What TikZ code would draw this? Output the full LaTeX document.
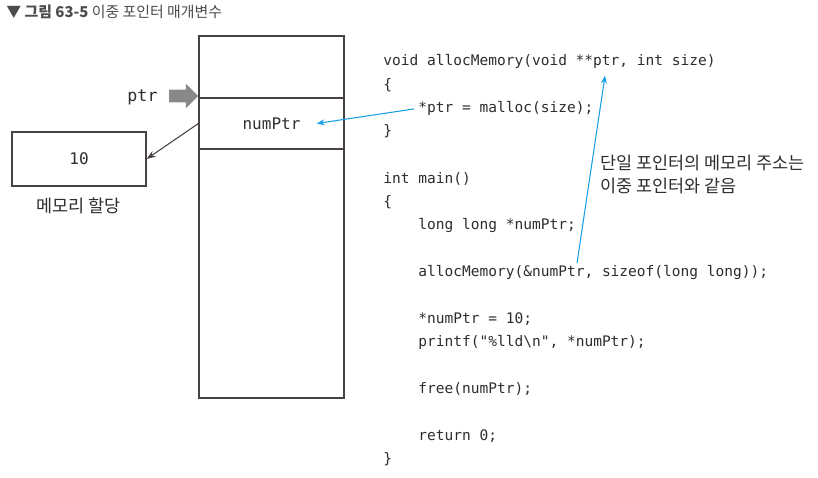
\documentclass[tikz,border=0pt]{standalone}
\usepackage{fontspec}
\setmainfont{Noto Sans CJK KR}
\setmonofont{DejaVu Sans Mono}
\usetikzlibrary{arrows.meta, shapes.arrows, calc, positioning}
\definecolor{linegray}{RGB}{72,66,66}
\definecolor{ptrblue}{RGB}{24,160,230}
\definecolor{arrgray}{RGB}{136,136,136}
\definecolor{txtgray}{RGB}{45,45,45}

\begin{document}
\begin{tikzpicture}[x=0.75pt, y=-0.75pt,
    code/.style={anchor=base west, inner xsep=3pt, inner ysep=1pt, font=\ttfamily\fontsize{10.9}{13}\selectfont, text=txtgray},
    cell/.style={draw=linegray, line width=0.9pt, minimum width=108.75pt},
    ko/.style={font=\fontsize{13.1}{17.25}\selectfont, text=txtgray},
    blueptr/.style={draw=ptrblue, line width=0.8pt, -{Stealth[length=6pt,width=4.5pt]}}]

    \useasboundingbox (0,0) rectangle (818,478);

    % title
    \node[anchor=base west, inner sep=0, text=txtgray!85, font=\fontsize{11.2}{13}\selectfont] (title) at (6,17.5) {▼ \textbf{그림 63-5} 이중 포인터 매개변수};

    % memory
    \node[cell, minimum height=271.5pt] (mem) at (271.5,217) {};
    \node[cell, minimum height=38.25pt] (numcell) at (271.5,123.5) {};
    \node[font=\ttfamily\fontsize{12}{14}\selectfont, text=txtgray, inner xsep=12pt] (numtxt) at (numcell.center) {numPtr};

    \node[cell, minimum width=100.5pt, minimum height=40.5pt, font=\ttfamily\fontsize{12}{14}\selectfont, text=txtgray] (valbox) at (79,159) {10};
    \node[ko] (alloc) at (78.5,206) {메모리 할당};

    \node[anchor=base, font=\ttfamily\fontsize{12.5}{14}\selectfont, text=txtgray] (ptrlbl) at (142.5,101.5) {ptr};
    \node[single arrow, fill=arrgray, inner sep=4.5pt, minimum height=21.75pt, single arrow head extend=4.5pt] (ptrarrow) at (180.5,96) {};

    \draw[linegray, line width=0.8pt, -{Stealth[length=7pt,width=5pt]}] (numcell.west) -- (valbox.east);

    % code
    \node[code] (sig) at (379,66) {void allocMemory(void **ptr, int size)};
    \node[code] (ob1) at (379,89.5) {\{};
    \node[code] (assign) at (414,113) {*ptr = malloc(size);};
    \node[code] (cb1) at (379,136) {\}};
    \node[code] (mainsig) at (379,183) {int main()};
    \node[code] (ob2) at (379,206.5) {\{};
    \node[code] (decl) at (414,229.5) {long long *numPtr;};
    \node[code] (call) at (414,276) {allocMemory(\&numPtr, sizeof(long long));};
    \node[code] (store) at (414,323) {*numPtr = 10;};
    \node[code] (print) at (414,346.5) {printf("\%lld\textbackslash n", *numPtr);};
    \node[code] (release) at (414,393.5) {free(numPtr);};
    \node[code] (ret) at (414,440) {return 0;};
    \node[code] (cb2) at (379,463.5) {\}};

    \node[ko, anchor=west, align=left, inner sep=0] (note) at (600,174.5) {단일 포인터의 메모리 주소는\\이중 포인터와 같음};

    \coordinate (numref) at ($(call.north west)+(163,0)$);
    \coordinate (ptrref) at ($(sig.south west)+(226,5)$);

    \draw[blueptr] (assign.west) -- (numtxt.east);
    \draw[blueptr] (numref) -- (ptrref);
\end{tikzpicture}
\end{document}
